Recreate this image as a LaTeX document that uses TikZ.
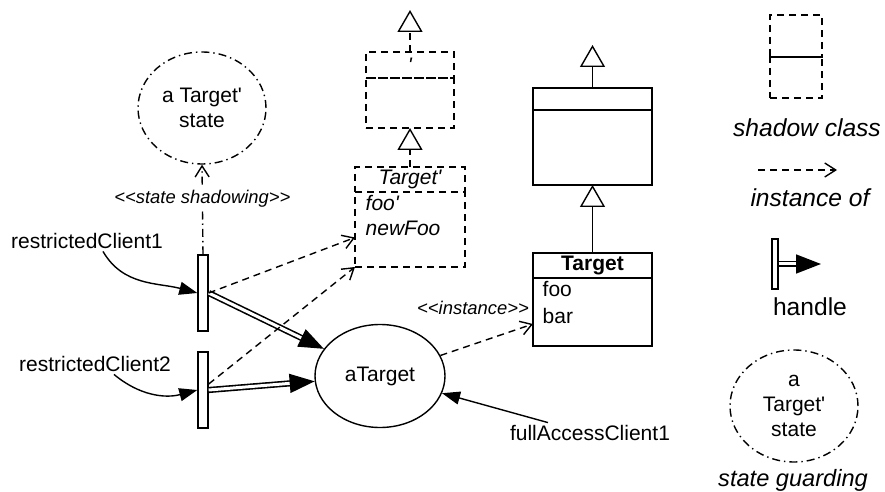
\documentclass[tikz,border=0pt]{standalone}
\usepackage{fontspec}
\setmainfont{Liberation Sans}[Ligatures=TeXOff]
\usetikzlibrary{shapes.geometric, arrows.meta}

\begin{document}
\begin{tikzpicture}[
    x=0.5pt, y=-0.5pt,
    line width=0.7pt,
    font=\fontsize{10.5}{12.5}\selectfont,
    lbl/.style = {inner sep=1pt},
    attr/.style = {inner sep=0pt, anchor=base west},
    stereo/.style = {inner sep=1pt, font=\fontsize{9.2}{11}\selectfont\itshape},
    caption/.style = {inner sep=1pt, font=\fontsize{12.3}{14}\selectfont\itshape},
    shadowline/.style = {dash pattern=on 3.5pt off 2.5pt},
    stateline/.style = {dash pattern=on 4pt off 2pt on 0.7pt off 2pt},
    state/.style = {ellipse, draw, stateline, align=center, inner sep=0pt, minimum width=64pt, minimum height=56pt},
    instance/.style = {ellipse, draw, inner sep=0pt, minimum width=65pt, minimum height=51.5pt},
    handle/.style = {rectangle, draw, inner sep=0pt, minimum width=5pt, minimum height=38pt},
    clsbox/.style 2 args = {rectangle, draw, inner sep=0pt, outer sep=0pt, anchor=north, minimum width=#1, minimum height=#2},
    gen/.style = {-{Triangle[open, length=11pt, width=12.5pt]}},
    inst/.style = {shadowline, -{Straight Barb[length=5.5pt, width=7pt]}},
    handlearrow/.style = {double, double distance=1.5pt, line width=0.8pt, -{Triangle[length=12.5pt, width=9.5pt]}},
    client/.style = {-{Triangle[length=9pt, width=6.5pt]}}
  ]
  \useasboundingbox (0,0) rectangle (885,492);

  % state, handles and clients
  \node[state] (shadowst) at (202,108) {a Target'\\state};
  \node[handle] (hnd1) at (203,293) {};
  \node[handle] (hnd2) at (203,390) {};
  \node[lbl] (rclient1) at (87,241) {restrictedClient1};
  \node[lbl] (rclient2) at (95,364) {restrictedClient2};
  \node[instance] (atarget) at (380,376) {aTarget};
  \node[lbl] (fullclient) at (590,433) {fullAccessClient1};

  % shadow classes
  \node[clsbox={44pt}{13pt}, shadowline] (shduphd) at (410,52) {\itshape '};
  \node[clsbox={44pt}{25pt}, shadowline] (shdupbody) at (shduphd.south) {};
  \node[clsbox={55pt}{12.5pt}, shadowline] (tgtphd) at (410,167) {\itshape Target'};
  \node[clsbox={55pt}{37.5pt}, shadowline] (tgtpbody) at (tgtphd.south) {};
  \node[attr] (tgtpfoo) at (365,211) {\itshape foo'};
  \node[attr] (tgtpnew) at (365,235) {\itshape newFoo};

  % classes
  \node[clsbox={59.5pt}{11pt}] (basehd) at (592.5,88) {};
  \node[clsbox={59.5pt}{37.5pt}] (basebody) at (basehd.south) {};
  \node[clsbox={59.5pt}{12.5pt}] (tgthd) at (592.5,253) {\bfseries Target};
  \node[clsbox={59.5pt}{34pt}] (tgtbody) at (tgthd.south) {};
  \node[attr] (tgtfoo) at (542,297) {foo};
  \node[attr] (tgtbar) at (542,323) {bar};

  % legend
  \node[clsbox={26pt}{21pt}, shadowline] (lgshdhd) at (796,15) {};
  \node[clsbox={26pt}{20.5pt}, shadowline] (lgshdbody) at (lgshdhd.south) {};
  \node[caption] (lgshdcap) at (807,128) {shadow class};
  \coordinate (lginsta) at (758,170);
  \coordinate (lginstb) at (837,170);
  \node[caption] (lginstcap) at (810,198) {instance of};
  \node[handle, minimum width=3pt, minimum height=25pt] (lghnd) at (775,264) {};
  \coordinate (lghndtip) at (821,264);
  \node[lbl, font=\fontsize{12.3}{14}\selectfont] (lghndcap) at (810,307) {handle};
  \node[state] (lgstate) at (794,406) {a\\Target'\\state};
  \node[caption, font=\fontsize{11.8}{14}\selectfont\itshape] (lgstatecap) at (793,480) {state guarding};

  % generalizations
  \coordinate (shduptip) at (410,10);
  \coordinate (basetip) at (592.5,45);
  \draw[shadowline, gen] (shduphd.north) -- (shduptip);
  \draw[shadowline, gen] (tgtphd.north) -- (shdupbody.south);
  \draw[gen] (basehd.north) -- (basetip);
  \draw[gen] (tgthd.north) -- (basebody.south);

  % connectors
  \draw[stateline, -{Straight Barb[length=5.5pt, width=7pt]}] (hnd1.north) -- (shadowst.south)
    node[stereo, fill=white, pos=0.62] (shadowlbl) {<<state shadowing>>};
  \draw[client] ([xshift=8pt]rclient1.south) to[out=-60, in=165] (hnd1.west);
  \draw[client] ([xshift=9.5pt]rclient2.south) to[out=-40, in=195] (hnd2.west);
  \draw[handlearrow] (hnd1.east) -- (atarget);
  \draw[handlearrow] (hnd2.east) -- (atarget);
  \draw[inst] (hnd1.east) -- ([yshift=-4pt]tgtpbody.west);
  \draw[inst] ([yshift=3pt]hnd2.east) -- (tgtpbody.south west);
  \draw[inst] (atarget) -- ([yshift=-6pt]tgtbody.west);
  \node[stereo] (instlbl) at (473,308) {<<instance>>};
  \draw[client] ([xshift=-21pt]fullclient.north) -- (atarget);
  \draw[inst] (lginsta) -- (lginstb);
  \draw[handlearrow] (lghnd.east) -- (lghndtip);
\end{tikzpicture}
\end{document}
